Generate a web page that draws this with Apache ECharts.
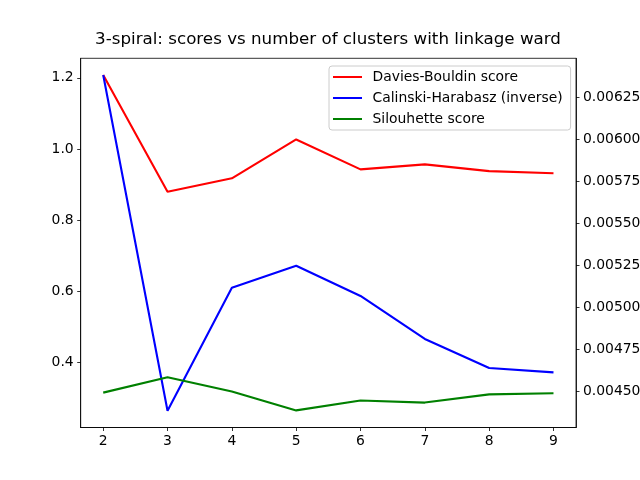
<!DOCTYPE html>
<html>
<head>
<meta charset="utf-8">
<script src="https://cdn.jsdelivr.net/npm/echarts@6/dist/echarts.min.js"></script>
<style>
  html, body { margin: 0; padding: 0; background: #fff; }
  #chart { width: 640px; height: 480px; }
</style>
</head>
<body>
<div id="chart"></div>
<script>
// number of clusters
var clusters = [2, 3, 4, 5, 6, 7, 8, 9];

// scores
var daviesBouldin = [1.208, 0.880, 0.918, 1.027, 0.943, 0.957, 0.938, 0.932];
var silhouette = [0.316, 0.359, 0.319, 0.266, 0.294, 0.288, 0.311, 0.314];
var calinskiInverse = [0.006385, 0.004387, 0.005119, 0.005250, 0.005070, 0.004814, 0.004641, 0.004615];

// tick labels
var xTicks = [2, 3, 4, 5, 6, 7, 8, 9];
var leftTicks = [0.4, 0.6, 0.8, 1.0, 1.2];
var rightTicks = [0.0045, 0.00475, 0.005, 0.00525, 0.0055, 0.00575, 0.006, 0.00625];

function pairs(ys) {
	return clusters.map(function (x, i) { return [x, ys[i]]; });
}

var font = 'DejaVu Sans';

function GenerateChart() {
	var chart = echarts.init(document.getElementById('chart'), null, {renderer: 'canvas'});

	var tickStyle = { show: true, length: 3.5, lineStyle: { color: '#000', width: 0.8 } };

	chart.setOption({
		animation: false,
		backgroundColor: '#fff',
		title: {
			text: '3-spiral: scores vs number of clusters with linkage ward',
			left: 328,
			top: 31,
			textAlign: 'center',
			padding: 0,
			textStyle: { fontFamily: font, fontSize: 16.7, fontWeight: 'normal', color: '#000' }
		},
		legend: {
			orient: 'vertical',
			left: 329,
			top: 66,
			padding: [4, 8, 4, 4],
			itemGap: 7,
			itemWidth: 29,
			itemHeight: 2,
			icon: 'rect',
			backgroundColor: 'rgba(255,255,255,0.8)',
			borderColor: '#cccccc',
			borderWidth: 1,
			borderRadius: 3,
			textStyle: { fontFamily: font, fontSize: 13.9, color: '#000', lineHeight: 14, padding: [0, 0, 0, 5.5] },
			data: ['Davies-Bouldin score', 'Calinski-Harabasz (inverse)', 'Silouhette score']
		},
		grid: {
			left: 80.7,
			right: 64,
			top: 58.3,
			bottom: 52.5,
			show: true,
			borderColor: '#000',
			borderWidth: 0.8,
			containLabel: false,
			outerBoundsMode: 'none'
		},
		xAxis: {
			type: 'value',
			min: 1.65,
			max: 9.35,
			splitLine: { show: false },
			axisLine: { show: true, lineStyle: { color: '#000', width: 0.8 } },
			axisTick: Object.assign({ customValues: xTicks }, tickStyle),
			axisLabel: {
				customValues: xTicks,
				margin: 7,
				fontFamily: font, fontSize: 13.9, color: '#000'
			}
		},
		yAxis: [
			{
				type: 'value',
				position: 'left',
				min: 0.218,
				max: 1.255,
				splitLine: { show: false },
				axisLine: { show: true, lineStyle: { color: '#000', width: 0.8 } },
				axisTick: Object.assign({ customValues: leftTicks }, tickStyle),
				axisLabel: {
					customValues: leftTicks,
					margin: 7,
					formatter: function (v) { return v.toFixed(1); },
					fontFamily: font, fontSize: 13.9, color: '#000'
				}
			},
			{
				type: 'value',
				position: 'right',
				min: 0.004287,
				max: 0.0064845,
				splitLine: { show: false },
				axisLine: { show: true, lineStyle: { color: '#000', width: 0.8 } },
				axisTick: Object.assign({ customValues: rightTicks }, tickStyle),
				axisLabel: {
					customValues: rightTicks,
					margin: 7,
					formatter: function (v) { return v.toFixed(5); },
					fontFamily: font, fontSize: 13.9, color: '#000'
				}
			}
		],
		series: [
			{
				name: 'Davies-Bouldin score',
				type: 'line',
				yAxisIndex: 0,
				showSymbol: false,
				color: '#ff0000',
				lineStyle: { width: 2.1, color: '#ff0000' },
				data: pairs(daviesBouldin)
			},
			{
				name: 'Calinski-Harabasz (inverse)',
				type: 'line',
				yAxisIndex: 1,
				showSymbol: false,
				color: '#0000ff',
				lineStyle: { width: 2.1, color: '#0000ff' },
				data: pairs(calinskiInverse)
			},
			{
				name: 'Silouhette score',
				type: 'line',
				yAxisIndex: 0,
				showSymbol: false,
				color: '#008000',
				lineStyle: { width: 2.1, color: '#008000' },
				data: pairs(silhouette)
			}
		]
	});
}

GenerateChart();
</script>
</body>
</html>
